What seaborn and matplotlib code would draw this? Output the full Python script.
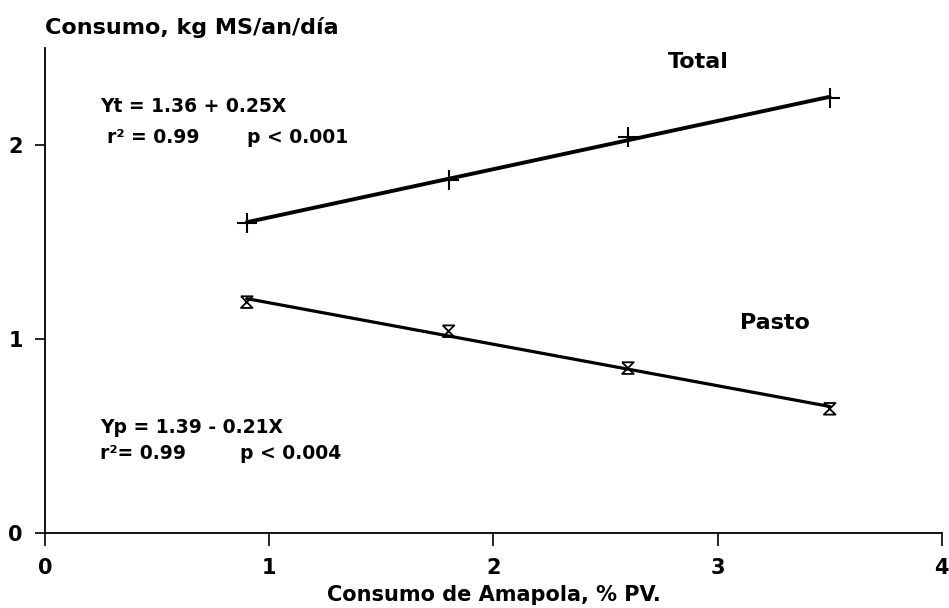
import numpy as np
import pandas as pd
import matplotlib
matplotlib.use("Agg")
import matplotlib.pyplot as plt
import seaborn as sns

# data
amapola = [0.9, 1.8, 2.6, 3.5]
total = [1.60, 1.82, 2.04, 2.24]
pasto = [1.19, 1.04, 0.85, 0.64]

x_ticks = [0, 1, 2, 3, 4]
y_ticks = [0, 1, 2]

df = pd.DataFrame({"amapola": amapola, "total": total, "pasto": pasto})

sns.set_style("ticks")
plt.rcParams["font.family"] = ["DejaVu Sans"]
plt.rcParams["font.weight"] = "bold"
for k in ["text.color", "axes.labelcolor", "xtick.color", "ytick.color",
          "axes.edgecolor"]:
    plt.rcParams[k] = "black"

fig = plt.figure(figsize=(9.49, 6.08), dpi=100)
ax = fig.add_axes([0.0474, 0.1234, 0.945, 0.7977])

# hollow hourglass marker for Pasto
hourglass = [(-1, 1), (1, 1), (-1, -1), (1, -1), (-1, 1)]

sns.regplot(data=df, x="amapola", y="total", ci=None, ax=ax, color="black",
            marker="+", scatter_kws={"s": 190, "linewidths": 1.5, "alpha": 1},
            line_kws={"lw": 2.8})
sns.regplot(data=df, x="amapola", y="pasto", ci=None, ax=ax, color="black",
            marker=hourglass,
            scatter_kws={"s": 70, "linewidths": 1.3, "facecolors": "none",
                         "alpha": 1},
            line_kws={"lw": 2.3})

ax.set_xlim(0, 4)
ax.set_ylim(0, 2.5)
ax.set_xticks(x_ticks)
ax.set_yticks(y_ticks)
ax.set_xlabel("Consumo de Amapola, % PV.", fontsize=15, fontweight="bold",
              labelpad=5)
ax.set_ylabel("")
ax.tick_params(axis="x", direction="out", length=9, width=1.2, pad=9,
               labelsize=15)
ax.tick_params(axis="y", direction="out", length=7, width=1.2, pad=9,
               labelsize=15)
for s in ["left", "bottom"]:
    ax.spines[s].set_linewidth(1.3)
sns.despine(ax=ax)

ax.text(0, 1.043, "Consumo, kg MS/an/día", transform=ax.transAxes,
        ha="left", va="center", fontsize=16, fontweight="bold")

ann = dict(ha="left", va="center", fontsize=13.5, fontweight="bold")
ax.text(0.245, 2.196, "Yt = 1.36 + 0.25X", **ann)
ax.text(0.277, 2.04, "r² = 0.99", **ann)
ax.text(0.90, 2.04, "p < 0.001", **ann)
ax.text(0.245, 0.546, "Yp = 1.39 - 0.21X", **ann)
ax.text(0.245, 0.41, "r²= 0.99", **ann)
ax.text(0.87, 0.41, "p < 0.004", **ann)

ax.text(2.78, 2.43, "Total", ha="left", va="center", fontsize=16,
        fontweight="bold")
ax.text(3.10, 1.08, "Pasto", ha="left", va="center", fontsize=16,
        fontweight="bold")

fig.savefig("out.png", dpi=100)
